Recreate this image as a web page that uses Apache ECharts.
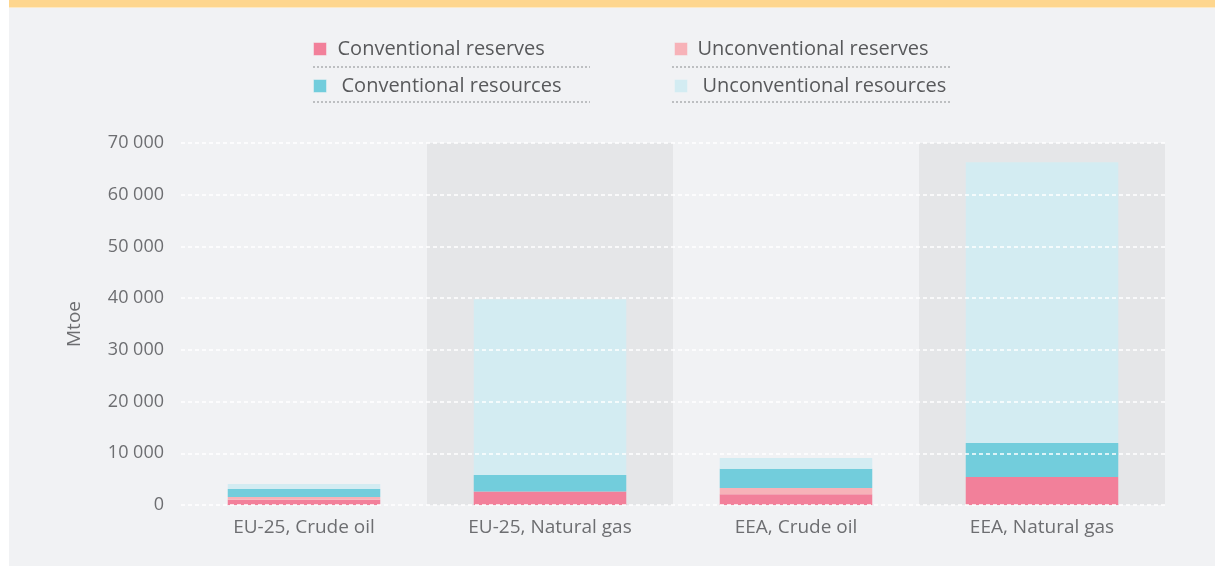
<!DOCTYPE html>
<html>
<head>
<meta charset="utf-8">
<script src="https://cdn.jsdelivr.net/npm/echarts@6/dist/echarts.min.js"></script>
<style>
  html, body { margin: 0; padding: 0; background: #ffffff; }
  #main { width: 1215px; height: 566px; }
</style>
</head>
<body>
<div id="main"></div>
<script>
// data (Mtoe)
var categories = ['EU-25, Crude oil', 'EU-25, Natural gas', 'EEA, Crude oil', 'EEA, Natural gas'];
var conventionalReserves = [1000, 2600, 2100, 5400];
var unconventionalReserves = [550, 0, 1200, 0];
var conventionalResources = [1550, 3200, 3700, 6600];
var unconventionalResources = [950, 34000, 2100, 54300];
var yTicks = [0, 10000, 20000, 30000, 40000, 50000, 60000, 70000];

var seriesNames = ['Conventional reserves', 'Unconventional reserves', 'Conventional resources', 'Unconventional resources'];
var seriesColors = ['#f2809a', '#f7b2b8', '#72cddc', '#d3ecf2'];
var seriesData = [conventionalReserves, unconventionalReserves, conventionalResources, unconventionalResources];

var textGrey = '#6d6e71';
var font = '"Open Sans", "Noto Sans", sans-serif';

function fmt(v) {
  return String(v).replace(/\B(?=(\d{3})+(?!\d))/g, ' ');
}

// one legend per item so each can sit where the original has it
var legendPos = [
  { left: 313, top: 38, pad: 6 },
  { left: 674, top: 38, pad: 5 },
  { left: 313, top: 75, pad: 10 },
  { left: 674, top: 75, pad: 10 }
];
var legends = seriesNames.map(function (name, i) {
  return {
    data: [name],
    left: legendPos[i].left,
    top: legendPos[i].top,
    padding: 0,
    itemWidth: 13,
    itemHeight: 13,
    icon: 'rect',
    selectedMode: false,
    itemStyle: { borderColor: '#f1f2f4', borderWidth: 1, borderType: 'dotted' },
    textStyle: {
      fontFamily: font, fontSize: 20, color: '#58595b',
      lineHeight: 22, padding: [0, 0, 0, legendPos[i].pad]
    }
  };
});

var myChart = echarts.init(document.getElementById('main'));

var option = {
  backgroundColor: '#ffffff',
  animation: false,
  textStyle: { fontFamily: font },
  graphic: [
    { type: 'rect', z: -10, shape: { x: 9, y: 0, width: 1206, height: 566 }, style: { fill: '#f1f2f4' } },
    { type: 'rect', z: -9, shape: { x: 9, y: 0, width: 1206, height: 7 }, style: { fill: '#fed68e' } },
    { type: 'rect', z: -9, shape: { x: 9, y: 7, width: 1206, height: 1 }, style: { fill: '#fde9c4' } },
    // dotted rules under the legend entries
    { type: 'line', shape: { x1: 313, y1: 67, x2: 590, y2: 67 }, style: { stroke: '#8a8b8e', lineWidth: 1, lineDash: [2, 2] } },
    { type: 'line', shape: { x1: 672, y1: 67, x2: 950, y2: 67 }, style: { stroke: '#8a8b8e', lineWidth: 1, lineDash: [2, 2] } },
    { type: 'line', shape: { x1: 313, y1: 102, x2: 590, y2: 102 }, style: { stroke: '#8a8b8e', lineWidth: 1, lineDash: [2, 2] } },
    { type: 'line', shape: { x1: 672, y1: 102, x2: 950, y2: 102 }, style: { stroke: '#8a8b8e', lineWidth: 1, lineDash: [2, 2] } }
  ],
  legend: legends,
  grid: { left: 181, right: 50, top: 143, bottom: 61 },
  xAxis: {
    type: 'category',
    data: categories,
    z: 0,
    axisLine: { show: false },
    axisTick: { show: false },
    axisLabel: { fontSize: 19, color: textGrey, margin: 13, fontFamily: font },
    splitLine: { show: false },
    splitArea: { show: true, areaStyle: { color: ['rgba(0,0,0,0)', '#e5e6e8'] } }
  },
  yAxis: {
    type: 'value',
    min: yTicks[0],
    max: yTicks[yTicks.length - 1],
    interval: 10000,
    z: 10,
    name: 'Mtoe',
    nameLocation: 'middle',
    nameRotate: 90,
    nameGap: 97,
    nameTextStyle: { fontSize: 19, color: textGrey, fontFamily: font },
    axisLine: { show: false },
    axisTick: { show: false },
    axisLabel: { fontSize: 18, color: textGrey, margin: 17, fontFamily: font, formatter: fmt },
    splitLine: { show: true, lineStyle: { color: '#ffffff', width: 1.5, type: [4, 3] } }
  },
  series: seriesNames.map(function (name, i) {
    return {
      name: name,
      type: 'bar',
      stack: 'total',
      barWidth: '62%',
      z: 2,
      itemStyle: { color: seriesColors[i] },
      data: seriesData[i]
    };
  })
};

myChart.setOption(option, true);
</script>
</body>
</html>
